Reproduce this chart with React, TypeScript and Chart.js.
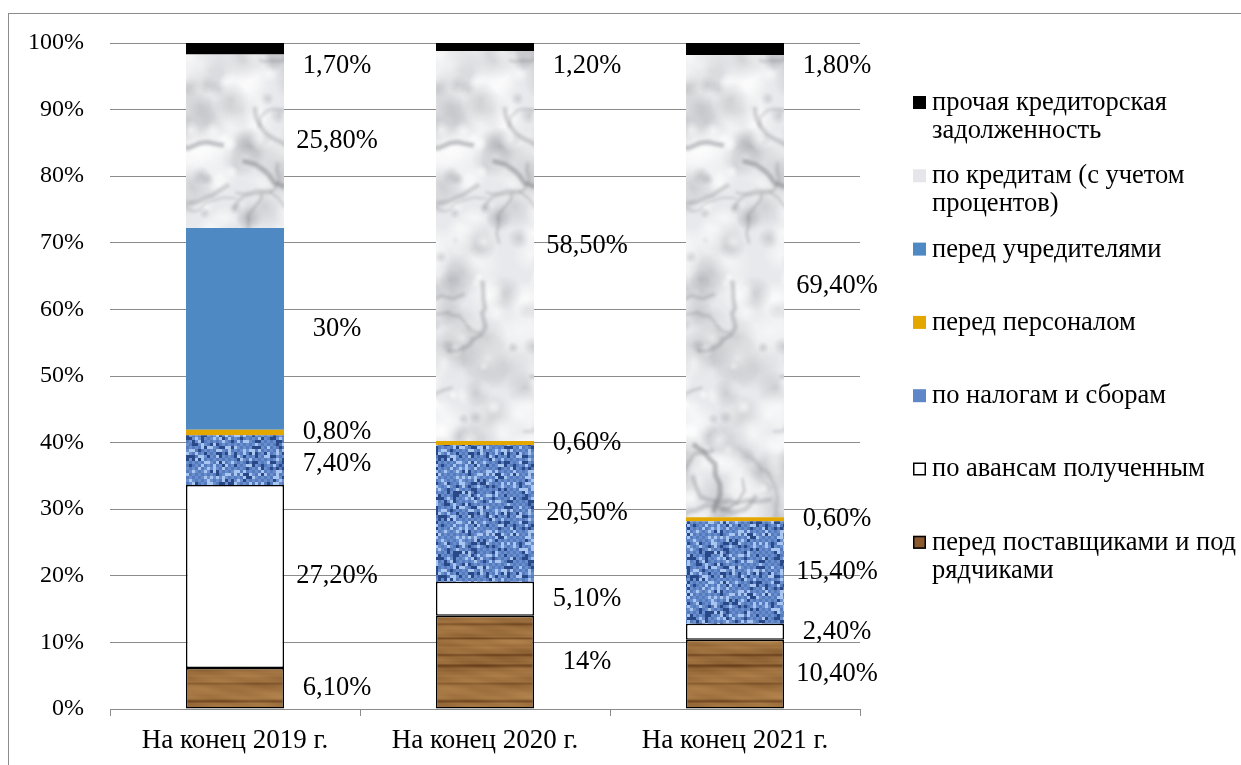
import React, { useEffect, useRef } from 'react';
import { Chart, registerables } from 'chart.js';

Chart.register(...registerables);

// ---------- DATA ----------
const categories = ['На конец 2019 г.', 'На конец 2020 г.', 'На конец 2021 г.'];
const suppliers = [6.1, 14, 10.4]; // перед поставщиками и подрядчиками
const advances = [27.2, 5.1, 2.4]; // по авансам полученным
const taxes = [7.4, 20.5, 15.4]; // по налогам и сборам
const personnel = [0.8, 0.6, 0.6]; // перед персоналом
const founders = [30, 0, 0]; // перед учредителями
const credits = [25.8, 58.5, 69.4]; // по кредитам (с учетом процентов)
const other = [1.7, 1.2, 1.8]; // прочая кредиторская задолженность
const yTickValues = [0, 10, 20, 30, 40, 50, 60, 70, 80, 90, 100];

const seriesNames = [
  'перед поставщиками и подрядчиками',
  'по авансам полученным',
  'по налогам и сборам',
  'перед персоналом',
  'перед учредителями',
  'по кредитам (с учетом процентов)',
  'прочая кредиторская задолженность',
];
const legendLines = [
  ['перед поставщиками и под', 'рядчиками'],
  ['по авансам полученным'],
  ['по налогам и сборам'],
  ['перед персоналом'],
  ['перед учредителями'],
  ['по кредитам (с учетом', 'процентов)'],
  ['прочая кредиторская', 'задолженность'],
];

const FONT = "'Liberation Serif', 'Times New Roman', serif";
const GRID = '#8c8c8c';

// ---------- TEXTURES ----------
function rng(seed: number) {
  let s = seed >>> 0;
  return () => {
    s = (s + 0x6d2b79f5) >>> 0;
    let t = s;
    t = Math.imul(t ^ (t >>> 15), t | 1);
    t ^= t + Math.imul(t ^ (t >>> 7), t | 61);
    return ((t ^ (t >>> 14)) >>> 0) / 4294967296;
  };
}

function makeMarble(): HTMLCanvasElement {
  const W = 250, H = 760;
  const c = document.createElement('canvas');
  c.width = W; c.height = H;
  const g = c.getContext('2d')!;
  g.fillStyle = '#e8e9ec';
  g.fillRect(0, 0, W, H);
  const r = rng(11);
  for (let i = 0; i < 650; i++) {
    const x = r() * W, y = r() * H, rad = 5 + r() * 22;
    const dark = r() < 0.5;
    const grd = g.createRadialGradient(x, y, 0, x, y, rad);
    grd.addColorStop(0, dark ? 'rgba(140,142,148,0.3)' : 'rgba(255,255,255,0.6)');
    grd.addColorStop(1, dark ? 'rgba(140,142,148,0)' : 'rgba(255,255,255,0)');
    g.fillStyle = grd;
    g.beginPath(); g.arc(x, y, rad, 0, Math.PI * 2); g.fill();
  }
  g.filter = 'blur(1.8px)';
  for (let i = 0; i < 60; i++) {
    let x = r() * W, y = r() * H;
    let a = r() * Math.PI * 2;
    g.strokeStyle = `rgba(115,117,123,${0.2 + r() * 0.28})`;
    g.lineWidth = 2 + r() * 3;
    g.beginPath(); g.moveTo(x, y);
    const n = 5 + Math.floor(r() * 8);
    for (let k = 0; k < n; k++) {
      a += (r() - 0.5) * 1.6;
      const len = 5 + r() * 9;
      x += Math.cos(a) * len; y += Math.sin(a) * len;
      g.lineTo(x, y);
    }
    g.stroke();
  }
  g.filter = 'none';
  return c;
}

function makeDenim(): HTMLCanvasElement {
  const W = 252, H = 60;
  const c = document.createElement('canvas');
  c.width = W; c.height = H;
  const g = c.getContext('2d')!;
  const img = g.createImageData(W, H);
  const r = rng(5);
  const dark = [40, 72, 136], mid = [104, 142, 206], midD = [86, 122, 190], light = [168, 198, 240];
  const B = 3;
  const cells: number[][][] = [];
  for (let by = 0; by < H / B; by++) {
    cells[by] = [];
    for (let bx = 0; bx < W / B; bx++) {
      const v = r();
      const weave = ((bx + by) % 2) === 0;
      let col = weave ? mid : midD;
      if (v < 0.2) col = dark;
      else if (v > 0.78) col = light;
      cells[by][bx] = col;
    }
  }
  for (let y = 0; y < H; y++) {
    for (let x = 0; x < W; x++) {
      const col = cells[Math.floor(y / B)][Math.floor(x / B)];
      const i = (y * W + x) * 4;
      img.data[i] = col[0]; img.data[i + 1] = col[1]; img.data[i + 2] = col[2]; img.data[i + 3] = 255;
    }
  }
  g.putImageData(img, 0, 0);
  return c;
}

function makeWood(): HTMLCanvasElement {
  const W = 250, H = 760;
  const c = document.createElement('canvas');
  c.width = W; c.height = H;
  const g = c.getContext('2d')!;
  const img = g.createImageData(W, H);
  const r = rng(23);
  const rowV: number[] = [];
  let v = 0.65;
  for (let y = 0; y < H; y++) {
    v += (r() - 0.5) * 0.1;
    v = Math.max(0.5, Math.min(0.88, v * 0.9 + 0.68 * 0.1));
    rowV.push(v);
  }
  let y0 = 4 + r() * 8;
  while (y0 < H) {
    const th = 1.5 + r() * 2;
    const depth = 0.2 + r() * 0.3;
    for (let y = Math.floor(y0 - th); y <= Math.ceil(y0 + th); y++) {
      if (y < 0 || y >= H) continue;
      const d = Math.abs(y - y0) / th;
      if (d < 1) rowV[y] -= depth * (1 - d);
    }
    y0 += 10 + r() * 14;
  }
  const dk = [88, 48, 16], lt = [188, 140, 82];
  const phase = r() * 10;
  for (let y = 0; y < H; y++) {
    for (let x = 0; x < W; x++) {
      let t = rowV[y] + 0.06 * Math.sin(x * 0.045 + y * 0.21 + phase) + 0.035 * Math.sin(x * 0.13 - y * 0.5);
      t = Math.max(0, Math.min(1, t));
      const i = (y * W + x) * 4;
      img.data[i] = dk[0] + (lt[0] - dk[0]) * t;
      img.data[i + 1] = dk[1] + (lt[1] - dk[1]) * t;
      img.data[i + 2] = dk[2] + (lt[2] - dk[2]) * t;
      img.data[i + 3] = 255;
    }
  }
  g.putImageData(img, 0, 0);
  return c;
}

function fmt(v: number): string {
  if (Number.isInteger(v)) return `${v}%`;
  return `${v.toFixed(2).replace('.', ',')}%`;
}

export default function App() {
  const ref = useRef<HTMLCanvasElement | null>(null);

  useEffect(() => {
    const canvas = ref.current!;
    const ctx = canvas.getContext('2d')!;
    const shift = new DOMMatrix().translate(100, 0);
    const marble = ctx.createPattern(makeMarble(), 'repeat')!;
    marble.setTransform(shift);
    const denim = ctx.createPattern(makeDenim(), 'repeat')!;
    const wood = ctx.createPattern(makeWood(), 'repeat')!;
    wood.setTransform(shift);

    const raw = [suppliers, advances, taxes, personnel, founders, credits, other];
    const totals = categories.map((_, i) => raw.reduce((s, arr) => s + arr[i], 0));
    const pct = raw.map((arr) => arr.map((v, i) => (v / totals[i]) * 100));

    const fills: any[] = [wood, '#ffffff', denim, '#e3a700', '#4f89c3', marble, '#000000'];
    const borders = [1.5, 1.5, 0, 0, 0, 0, 0];
    const swatchFill = ['#8a5a2e', '#ffffff', '#5f86c8', '#e3a700', '#4f89c3', '#e6e6ea', '#000000'];
    const swatchBorder = [true, true, false, false, false, false, false];

    const datasets = raw.map((_, k) => ({
      label: seriesNames[k],
      data: pct[k],
      backgroundColor: fills[k],
      borderColor: '#000000',
      borderWidth: borders[k],
      borderSkipped: false as any,
      barPercentage: 0.392,
      categoryPercentage: 1,
    }));

    const labelPlugin = {
      id: 'segLabels',
      afterDatasetsDraw(chart: any) {
        const c = chart.ctx;
        const top = chart.chartArea.top;
        c.save();
        c.font = `26.5px ${FONT}`;
        c.fillStyle = '#000';
        c.textAlign = 'center';
        c.textBaseline = 'middle';
        categories.forEach((_, i) => {
          const items: { y: number; text: string; x: number }[] = [];
          raw.forEach((arr, k) => {
            if (arr[i] <= 0) return;
            const el = chart.getDatasetMeta(k).data[i];
            items.push({ y: (el.y + el.base) / 2, text: fmt(arr[i]), x: el.x + 102 });
          });
          items.sort((a, b) => a.y - b.y);
          let prev = top + 23 - 32;
          items.forEach((it) => {
            if (it.y < prev + 32) it.y = prev + 32;
            prev = it.y;
          });
          items.forEach((it) => c.fillText(it.text, it.x, it.y));
        });
        c.restore();
      },
    };

    const legendPlugin = {
      id: 'sideLegend',
      afterDraw(chart: any) {
        const c = chart.ctx;
        c.save();
        c.font = `26.5px ${FONT}`;
        c.textBaseline = 'middle';
        c.textAlign = 'left';
        const sx = 904, tx = 923, y0 = 89, step = 73.3, lh = 28;
        for (let n = 0; n < 7; n++) {
          const k = 6 - n;
          const yc = y0 + n * step;
          c.fillStyle = swatchFill[k];
          c.fillRect(sx, yc - 7, 13, 13);
          if (swatchBorder[k]) {
            c.strokeStyle = '#000';
            c.lineWidth = 1.5;
            c.strokeRect(sx + 0.75, yc - 6.25, 11.5, 11.5);
          }
          c.fillStyle = '#000';
          legendLines[k].forEach((line, j) => c.fillText(line, tx, yc + j * lh));
        }
        c.restore();
      },
    };

    const chart = new Chart(ctx, {
      type: 'bar',
      data: { labels: categories, datasets },
      options: {
        responsive: false,
        animation: false,
        layout: { padding: { top: 29, right: 381, bottom: 0, left: 0 } },
        plugins: { legend: { display: false }, tooltip: { enabled: false } },
        scales: {
          x: {
            stacked: true,
            grid: { offset: true, drawOnChartArea: false, drawTicks: true, tickLength: 7, color: GRID },
            border: { color: GRID },
            ticks: { font: { family: FONT, size: 27 }, color: '#000', padding: 9 },
            afterFit: (s: any) => { s.height = 56; },
          },
          y: {
            stacked: true,
            min: 0,
            max: 100,
            afterBuildTicks: (s: any) => { s.ticks = yTickValues.map((v) => ({ value: v })); },
            ticks: { font: { family: FONT, size: 24 }, color: '#000', padding: 26, callback: (v: any) => `${v}%` },
            grid: { color: GRID, drawTicks: false },
            border: { display: false },
            afterFit: (s: any) => { s.width = 101; s.paddingTop = 0; s.paddingBottom = 0; },
          },
        },
      } as any,
      plugins: [labelPlugin, legendPlugin],
    });
    return () => chart.destroy();
  }, []);

  return (
    <div
      style={{
        position: 'fixed',
        left: 8,
        top: 13,
        width: 1233,
        height: 752,
        borderLeft: `1px solid ${GRID}`,
        borderTop: `1px solid ${GRID}`,
        overflow: 'hidden',
        background: '#fff',
      }}
    >
      <canvas ref={ref} width={1232} height={751} style={{ display: 'block', width: 1232, height: 751 }} />
    </div>
  );
}
